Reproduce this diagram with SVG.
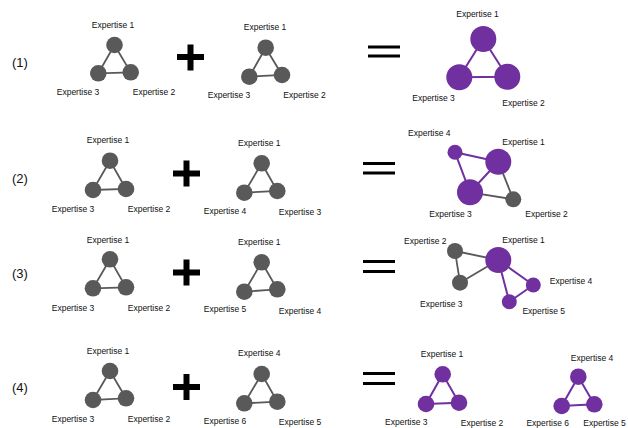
<svg xmlns="http://www.w3.org/2000/svg" width="628" height="428" viewBox="0 0 628 428">
<style>
text{font-family:"Liberation Sans",Arial,sans-serif;fill:#111}
.l{font-size:8.5px;text-anchor:middle}
.row{font-size:13px}
.g{fill:#595959}
.p{fill:#7030A0}
.eg{stroke:#595959;stroke-width:1.8;fill:none}
.ep{stroke:#7030A0;stroke-width:2;fill:none}
.op{fill:#000}
</style>
<rect width="628" height="428" fill="#fff"/>

<g id="row-labels">
<text class="row" x="12" y="67">(1)</text>
<text class="row" x="12" y="183">(2)</text>
<text class="row" x="12" y="277.5">(3)</text>
<text class="row" x="12" y="391.5">(4)</text>
</g>

<g id="operators">
<rect class="op" x="177" y="54" width="27" height="6"/><rect class="op" x="187.5" y="44.5" width="6" height="26"/>
<rect class="op" x="368" y="45.5" width="32" height="3"/><rect class="op" x="368" y="54.5" width="32" height="3"/>
<rect class="op" x="173" y="170.5" width="27" height="6"/><rect class="op" x="183.5" y="160.5" width="6" height="26"/>
<rect class="op" x="363" y="162" width="32" height="3"/><rect class="op" x="363" y="171.5" width="32" height="3"/>
<rect class="op" x="173" y="269.5" width="27" height="6"/><rect class="op" x="183.5" y="259.5" width="6" height="26"/>
<rect class="op" x="363" y="260" width="32" height="3"/><rect class="op" x="363" y="270" width="32" height="3"/>
<rect class="op" x="173" y="384" width="27" height="6"/><rect class="op" x="183.5" y="374" width="6" height="26"/>
<rect class="op" x="363" y="372" width="32" height="3"/><rect class="op" x="363" y="382" width="32" height="3"/>
</g>

<g id="connectors">
<path class="eg" d="M114.5 45L98.3 73.3L130.7 72.3Z"/>
<path class="eg" d="M265.7 47.7L249.3 76.7L282 75Z"/>
<path class="ep" d="M483.3 39L459.3 77.3L507.3 76.7Z"/>
<path class="eg" d="M110 160.7L93 190L126 189Z"/>
<path class="eg" d="M261.7 163.3L244.3 192.7L277.3 191Z"/>
<line class="ep" x1="455" y1="152.3" x2="498.3" y2="161.7"/>
<line class="ep" x1="455" y1="152.3" x2="470" y2="192.3"/>
<line class="ep" x1="498.3" y1="161.7" x2="470" y2="192.3"/>
<line class="eg" x1="498.3" y1="161.7" x2="513.3" y2="199.3"/>
<line class="eg" x1="470" y1="192.3" x2="513.3" y2="199.3"/>
<path class="eg" d="M110 259.3L93 288.3L126 287.3Z"/>
<path class="eg" d="M261.7 262.3L244.3 291.7L277.3 289.3Z"/>
<line class="eg" x1="455" y1="251" x2="498.3" y2="260"/>
<line class="eg" x1="455" y1="251" x2="460" y2="282.7"/>
<line class="eg" x1="460" y1="282.7" x2="498.3" y2="260"/>
<line class="ep" x1="498.3" y1="260" x2="533.3" y2="285"/>
<line class="ep" x1="498.3" y1="260" x2="509.3" y2="301.7"/>
<line class="ep" x1="533.3" y1="285" x2="509.3" y2="301.7"/>
<path class="eg" d="M110 371L93 400L126 398.3Z"/>
<path class="eg" d="M261.7 374L244.3 403.3L277.3 401.7Z"/>
<path class="ep" d="M442.7 374.3L426 404L459 402.7Z"/>
<path class="ep" d="M578.3 376.7L561.7 406L594.3 404.3Z"/>
</g>

<g id="r1a-e1"><circle class="g" cx="114.5" cy="45" r="8.3"/><text class="l" x="113" y="28">Expertise 1</text></g>
<g id="r1a-e3"><circle class="g" cx="98.3" cy="73.3" r="8.3"/><text class="l" x="78" y="95.3">Expertise 3</text></g>
<g id="r1a-e2"><circle class="g" cx="130.7" cy="72.3" r="8.3"/><text class="l" x="154" y="95.3">Expertise 2</text></g>
<g id="r1b-e1"><circle class="g" cx="265.7" cy="47.7" r="8.3"/><text class="l" x="265" y="30.3">Expertise 1</text></g>
<g id="r1b-e3"><circle class="g" cx="249.3" cy="76.7" r="8.3"/><text class="l" x="229" y="98">Expertise 3</text></g>
<g id="r1b-e2"><circle class="g" cx="282" cy="75" r="8.3"/><text class="l" x="304.5" y="98">Expertise 2</text></g>
<g id="r1c-e1"><circle class="p" cx="483.3" cy="39" r="13"/><text class="l" x="477.5" y="17">Expertise 1</text></g>
<g id="r1c-e3"><circle class="p" cx="459.3" cy="77.3" r="13"/><text class="l" x="433.5" y="100.7">Expertise 3</text></g>
<g id="r1c-e2"><circle class="p" cx="507.3" cy="76.7" r="13"/><text class="l" x="523.5" y="105.7">Expertise 2</text></g>

<g id="r2a-e1"><circle class="g" cx="110" cy="160.7" r="8.3"/><text class="l" x="108" y="143">Expertise 1</text></g>
<g id="r2a-e3"><circle class="g" cx="93" cy="190" r="8.3"/><text class="l" x="73" y="212.3">Expertise 3</text></g>
<g id="r2a-e2"><circle class="g" cx="126" cy="189" r="8.3"/><text class="l" x="149" y="212.3">Expertise 2</text></g>
<g id="r2b-e1"><circle class="g" cx="261.7" cy="163.3" r="8.3"/><text class="l" x="259.3" y="146.3">Expertise 1</text></g>
<g id="r2b-e4"><circle class="g" cx="244.3" cy="192.7" r="8.3"/><text class="l" x="225" y="214">Expertise 4</text></g>
<g id="r2b-e3"><circle class="g" cx="277.3" cy="191" r="8.3"/><text class="l" x="300" y="215.3">Expertise 3</text></g>
<g id="r2c-e4"><circle class="p" cx="455" cy="152.3" r="7.5"/><text class="l" x="429.3" y="136.3">Expertise 4</text></g>
<g id="r2c-e1"><circle class="p" cx="498.3" cy="161.7" r="13"/><text class="l" x="523.5" y="145.3">Expertise 1</text></g>
<g id="r2c-e3"><circle class="p" cx="470" cy="192.3" r="13"/><text class="l" x="450.5" y="217.3">Expertise 3</text></g>
<g id="r2c-e2"><circle class="g" cx="513.3" cy="199.3" r="8"/><text class="l" x="546.5" y="217.3">Expertise 2</text></g>

<g id="r3a-e1"><circle class="g" cx="110" cy="259.3" r="8.3"/><text class="l" x="108" y="243">Expertise 1</text></g>
<g id="r3a-e3"><circle class="g" cx="93" cy="288.3" r="8.3"/><text class="l" x="73" y="310.7">Expertise 3</text></g>
<g id="r3a-e2"><circle class="g" cx="126" cy="287.3" r="8.3"/><text class="l" x="149" y="310.7">Expertise 2</text></g>
<g id="r3b-e1"><circle class="g" cx="261.7" cy="262.3" r="8.3"/><text class="l" x="259.3" y="245.3">Expertise 1</text></g>
<g id="r3b-e5"><circle class="g" cx="244.3" cy="291.7" r="8.3"/><text class="l" x="225" y="312.3">Expertise 5</text></g>
<g id="r3b-e4"><circle class="g" cx="277.3" cy="289.3" r="8.3"/><text class="l" x="300" y="313.7">Expertise 4</text></g>
<g id="r3c-e2"><circle class="g" cx="455" cy="251" r="8"/><text class="l" x="425.3" y="243.7">Expertise 2</text></g>
<g id="r3c-e1"><circle class="p" cx="498.3" cy="260" r="13"/><text class="l" x="523.5" y="243">Expertise 1</text></g>
<g id="r3c-e3"><circle class="g" cx="460" cy="282.7" r="8"/><text class="l" x="441.3" y="306.7">Expertise 3</text></g>
<g id="r3c-e4"><circle class="p" cx="533.3" cy="285" r="7.5"/><text class="l" x="571" y="284">Expertise 4</text></g>
<g id="r3c-e5"><circle class="p" cx="509.3" cy="301.7" r="7.5"/><text class="l" x="543.7" y="314">Expertise 5</text></g>

<g id="r4a-e1"><circle class="g" cx="110" cy="371" r="8.3"/><text class="l" x="108" y="354">Expertise 1</text></g>
<g id="r4a-e3"><circle class="g" cx="93" cy="400" r="8.3"/><text class="l" x="73" y="422">Expertise 3</text></g>
<g id="r4a-e2"><circle class="g" cx="126" cy="398.3" r="8.3"/><text class="l" x="149" y="422">Expertise 2</text></g>
<g id="r4b-e4"><circle class="g" cx="261.7" cy="374" r="8.3"/><text class="l" x="259.3" y="356.3">Expertise 4</text></g>
<g id="r4b-e6"><circle class="g" cx="244.3" cy="403.3" r="8.3"/><text class="l" x="225" y="424">Expertise 6</text></g>
<g id="r4b-e5"><circle class="g" cx="277.3" cy="401.7" r="8.3"/><text class="l" x="300" y="425.3">Expertise 5</text></g>
<g id="r4c-e1"><circle class="p" cx="442.7" cy="374.3" r="8.3"/><text class="l" x="442" y="357">Expertise 1</text></g>
<g id="r4c-e3"><circle class="p" cx="426" cy="404" r="8.3"/><text class="l" x="406.3" y="425.3">Expertise 3</text></g>
<g id="r4c-e2"><circle class="p" cx="459" cy="402.7" r="8.3"/><text class="l" x="482" y="426.3">Expertise 2</text></g>
<g id="r4d-e4"><circle class="p" cx="578.3" cy="376.7" r="8.3"/><text class="l" x="592" y="361.3">Expertise 4</text></g>
<g id="r4d-e6"><circle class="p" cx="561.7" cy="406" r="8.3"/><text class="l" x="547.7" y="426">Expertise 6</text></g>
<g id="r4d-e5"><circle class="p" cx="594.3" cy="404.3" r="8.3"/><text class="l" x="604.5" y="425.5">Expertise 5</text></g>
</svg>
